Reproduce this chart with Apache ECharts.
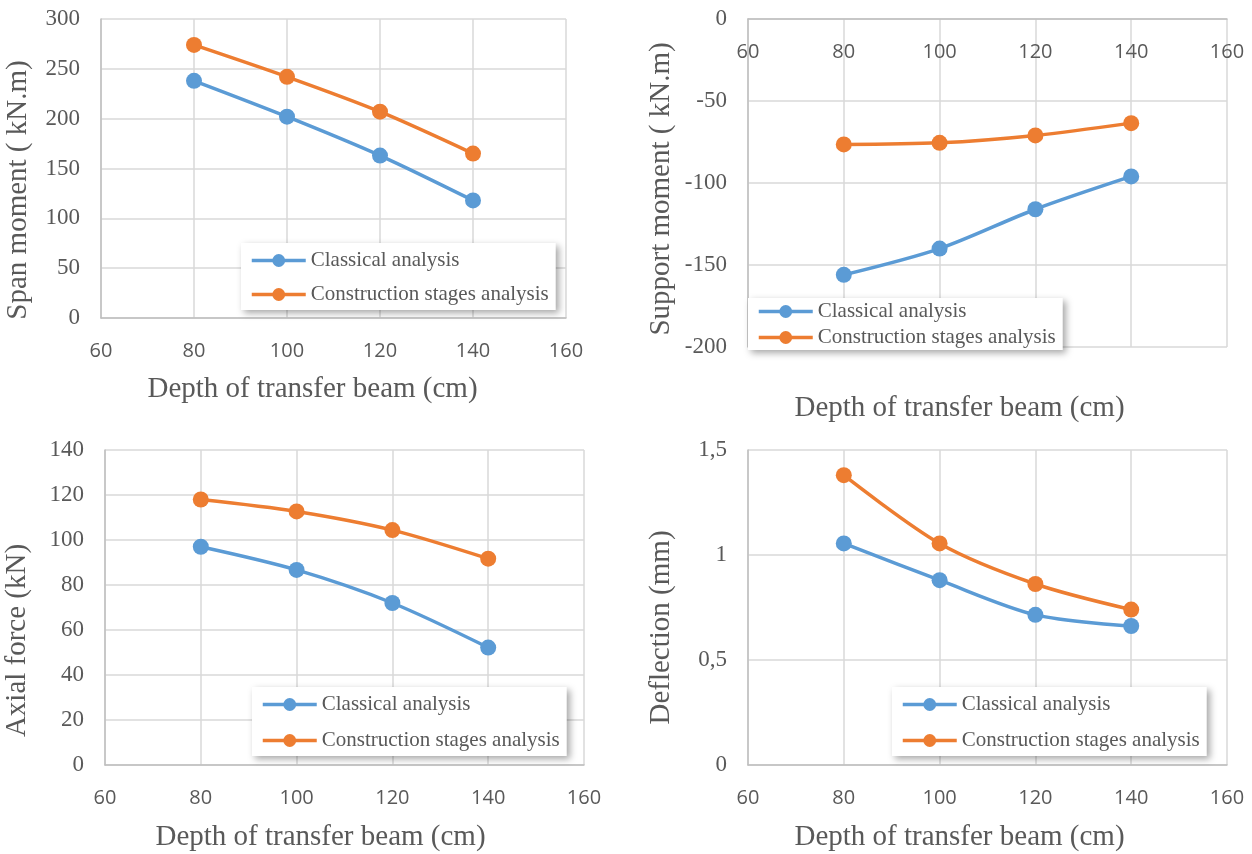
<!DOCTYPE html>
<html>
<head>
<meta charset="utf-8">
<script src="https://cdn.jsdelivr.net/npm/echarts@6/dist/echarts.min.js"></script>
<style>
html,body{margin:0;padding:0;background:#fff;}
#chart{width:1252px;height:854px;}
</style>
</head>
<body>
<div id="chart"></div>
<script>
// ---- data ----
const depth = [80, 100, 120, 140];
const seriesNames = ['Classical analysis', 'Construction stages analysis'];
const spanClassical = [238, 202, 163, 118];
const spanConstruction = [274, 242, 207, 165];
const supportClassical = [-156, -140, -116, -96];
const supportConstruction = [-76.5, -75.5, -71, -63.5];
const axialClassical = [97, 86.7, 72, 52.2];
const axialConstruction = [118, 112.7, 104.4, 91.7];
const deflClassical = [1.055, 0.88, 0.715, 0.662];
const deflConstruction = [1.38, 1.055, 0.862, 0.74];
const xRange = [60, 160, 20];
const spanRange = [0, 300, 50];
const supportRange = [-200, 0, 50];
const axialRange = [0, 140, 20];
const deflRange = [0, 1.5, 0.5];
const xTitle = 'Depth of transfer beam (cm)';
const yTitles = ['Span moment ( kN.m)', 'Support moment ( kN.m)', 'Axial force (kN)', 'Deflection (mm)'];

// ---- style ----
const BLUE = '#5B9BD5', ORANGE = '#ED7D31', TXT = '#595959';
const SERIF = '"Liberation Serif", "Times New Roman", serif';
const SANS = '"Open Sans", "Noto Sans", sans-serif';

const grids = [
  {left: 101, top: 19, width: 465, height: 299},
  {left: 748, top: 19, width: 479, height: 328},
  {left: 105, top: 450, width: 479, height: 315},
  {left: 748, top: 450, width: 479, height: 315}
];
const yRanges = [spanRange, supportRange, axialRange, deflRange];
const xNameGaps = [57, 0, 58, 58];
const xNamePad = [[0,42,0,0],[0,56,0,0],[0,48,0,0],[0,56,0,0]];
const yNameGaps = [68, 72, 73, 72];
const yNamePad = [[0,43,0,0],[0,12,0,0],[0,66,0,0],[0,40,0,0]];

function mk(v){ return v.map((y,i)=>[depth[i], y]); }
const dataSets = [
  [spanClassical, spanConstruction],
  [supportClassical, supportConstruction],
  [axialClassical, axialConstruction],
  [deflClassical, deflConstruction]
];

const nameStyle = (pad)=>({color:TXT, fontFamily:SERIF, fontSize:29, padding:pad});

const xAxes = grids.map((g,i)=>{
  const top = (i===1);
  return {
    type:'value', gridIndex:i, min:xRange[0], max:xRange[1], interval:xRange[2],
    position: top ? 'top' : 'bottom',
    axisLine:{show:true, onZero:false, lineStyle:{color:'#BFBFBF', width:1.5}},
    axisTick:{show:false},
    axisLabel:{color:TXT, fontFamily:SANS, fontSize:20, margin: top ? 23 : 23, inside: top},
    splitLine:{show:true, lineStyle:{color:'#D9D9D9', width:1.5}},
    name: top ? '' : xTitle, nameLocation:'middle', nameGap:xNameGaps[i],
    nameTextStyle:nameStyle(xNamePad[i])
  };
});
// axis title for the support-moment panel, placed under its plot
xAxes.push({
  type:'value', gridIndex:1, min:xRange[0], max:xRange[1], interval:xRange[2],
  position:'bottom', axisLine:{show:false, onZero:false}, axisTick:{show:false},
  axisLabel:{show:false}, splitLine:{show:false},
  name:xTitle, nameLocation:'middle', nameGap:47,
  nameTextStyle:nameStyle(xNamePad[1])
});

const yAxes = grids.map((g,i)=>({
  type:'value', gridIndex:i, min:yRanges[i][0], max:yRanges[i][1], interval:yRanges[i][2],
  axisLine:{show:true, onZero:false, lineStyle:{color:'#BFBFBF', width:1.5}},
  axisTick:{show:false},
  axisLabel:{color:TXT, fontFamily:SERIF, fontSize:23, margin:21,
    formatter: v => String(v).replace('.', ',')},
  splitLine:{show:true, lineStyle:{color:'#D9D9D9', width:1.5}},
  name:yTitles[i], nameLocation:'middle', nameGap:yNameGaps[i], nameRotate:90,
  nameTextStyle:nameStyle(yNamePad[i])
}));

const series = [];
dataSets.forEach((pair,i)=>{
  pair.forEach((vals,k)=>{
    const c = k===0 ? BLUE : ORANGE;
    series.push({
      name: seriesNames[k], type:'line', xAxisIndex:i, yAxisIndex:i,
      data: mk(vals), smooth:0.3, symbol:'circle', symbolSize:16,
      lineStyle:{color:c, width:3.5}, itemStyle:{color:c}, z: 3
    });
  });
});

const legendPos = [
  {left:241, top:243, itemGap:13, padding:[7,7,5,9]},
  {left:748, top:298, itemGap:5, padding:[3,7,2,9]},
  {left:252, top:687, itemGap:15, padding:[7,7,5,9]},
  {left:892, top:687, itemGap:15, padding:[7,7,5,9]}
];
const legends = legendPos.map(p=>Object.assign({
  orient:'vertical', data:seriesNames, itemWidth:54, itemHeight:16,
  lineStyle:{width:3.5},
  backgroundColor:'#fff', shadowBlur:7, shadowColor:'rgba(0,0,0,0.35)',
  shadowOffsetX:3, shadowOffsetY:3, borderWidth:0,
  textStyle:{color:TXT, fontFamily:SERIF, fontSize:21}, z:10
}, p));

const chart = echarts.init(document.getElementById('chart'), null, {renderer:'canvas'});
chart.setOption({
  animation:false, backgroundColor:'#fff',
  grid: grids.map(g=>Object.assign({containLabel:false}, g)),
  xAxis: xAxes, yAxis: yAxes, legend: legends, series: series
});
</script>
</body>
</html>
